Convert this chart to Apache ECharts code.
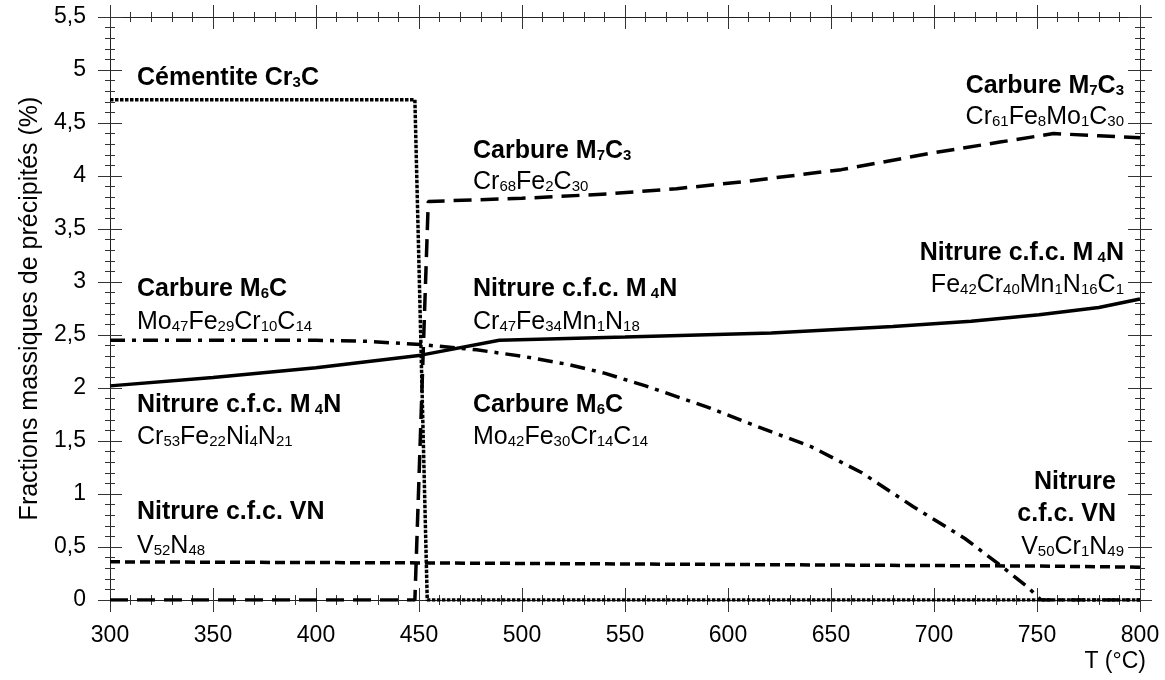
<!DOCTYPE html>
<html><head><meta charset="utf-8">
<script src="https://cdn.jsdelivr.net/npm/echarts@6/dist/echarts.min.js"></script>
<style>html,body{margin:0;padding:0;background:#fff}#c{width:1165px;height:680px}</style>
</head><body><div id="c"></div>
<script>
// ---- data ----
const cementiteT = [300, 448, 454, 800];
const cementiteV = [4.72, 4.72, 0, 0];
const m7c3T = [300, 448, 454.5, 500, 541, 575, 609, 655, 700, 732, 758, 780, 800];
const m7c3V = [0, 0, 3.76, 3.79, 3.83, 3.88, 3.95, 4.06, 4.22, 4.32, 4.40, 4.38, 4.36];
const m4nT = [300, 350, 400, 451, 489, 550, 621, 680, 718, 751, 780, 800];
const m4nV = [2.02, 2.10, 2.19, 2.31, 2.45, 2.48, 2.52, 2.58, 2.63, 2.69, 2.76, 2.84];
const m6cT = [300, 400, 425, 451, 478, 500, 523, 540, 560, 590, 615, 640, 665, 690, 715, 730, 745, 752, 800];
const m6cV = [2.45, 2.45, 2.44, 2.41, 2.36, 2.30, 2.22, 2.14, 2.02, 1.82, 1.63, 1.45, 1.20, 0.88, 0.58, 0.36, 0.13, 0, 0];
const vnT = [300, 450, 550, 650, 750, 800];
const vnV = [0.36, 0.35, 0.34, 0.33, 0.32, 0.31];

const xRange = [300, 800], xStep = 50;
const yRange = [0, 5.5], yStep = 0.5;
const yTitle = 'Fractions massiques de précipités (%)';
const xTitle = 'T (°C)';

// annotation texts
const titles = ['Cémentite Cr{b|3}C', 'Carbure M{b|7}C{b|3}', 'Carbure M{b|7}C{b|3}', 'Carbure M{b|6}C',
  'Nitrure c.f.c. M{b| 4}N', 'Nitrure c.f.c. M{b| 4}N', 'Nitrure c.f.c. M{b| 4}N', 'Carbure M{b|6}C',
  'Nitrure c.f.c. VN', 'Nitrure', 'c.f.c. VN'];
const formulas = ['Cr{s|68}Fe{s|2}C{s|30}', 'Cr{s|61}Fe{s|8}Mo{s|1}C{s|30}', 'Mo{s|47}Fe{s|29}Cr{s|10}C{s|14}',
  'Cr{s|47}Fe{s|34}Mn{s|1}N{s|18}', 'Fe{s|42}Cr{s|40}Mn{s|1}N{s|16}C{s|1}', 'Cr{s|53}Fe{s|22}Ni{s|4}N{s|21}',
  'Mo{s|42}Fe{s|30}Cr{s|14}C{s|14}', 'V{s|52}N{s|48}', 'V{s|50}Cr{s|1}N{s|49}'];

const FONT = '"Liberation Sans", Arial, Helvetica, sans-serif';
const zip = (a, b) => a.map((v, i) => [v, b[i]]);

function xAx(pos, inside, labels) {
  return {
    type: 'value', position: pos, min: xRange[0], max: xRange[1], interval: xStep,
    splitLine: { show: false },
    axisLine: { show: true, onZero: false, lineStyle: { color: '#222', width: 1 } },
    axisTick: { show: true, inside: inside, length: 12, lineStyle: { color: '#333' } },
    minorTick: { show: true, splitNumber: 5, length: 5, lineStyle: { color: '#333' } },
    axisLabel: { show: labels, margin: 24, color: '#000', fontSize: 23, fontFamily: FONT }
  };
}
function yAx(pos, inside, labels) {
  const a = {
    type: 'value', position: pos, min: yRange[0], max: yRange[1], interval: yStep,
    splitLine: { show: false },
    axisLine: { show: true, onZero: false, lineStyle: { color: '#222', width: 1 } },
    axisTick: { show: true, inside: inside, length: 12, lineStyle: { color: '#333' } },
    minorTick: { show: true, splitNumber: 5, length: 5, lineStyle: { color: '#333' } },
    axisLabel: { show: labels, margin: 24, color: '#000', fontSize: 23, fontFamily: FONT,
      formatter: v => String(v).replace('.', ',') }
  };
  if (labels) {
    a.name = yTitle; a.nameLocation = 'middle'; a.nameGap = 67; a.nameRotate = 90;
    a.nameTextStyle = { fontSize: 25, color: '#000', fontFamily: FONT };
  }
  return a;
}

function txt(x, y, text, bold, align) {
  return {
    type: 'text', x: x, y: y, z: 100,
    style: {
      text: text, fill: '#000',
      font: (bold ? 'bold ' : '') + '25px ' + FONT,
      align: align, verticalAlign: 'middle', textAlign: align, textVerticalAlign: 'middle',
      rich: {
        b: { fontSize: 15, fontWeight: 'bold', fontFamily: FONT, verticalAlign: 'bottom', lineHeight: 15 },
        s: { fontSize: 15, fontFamily: FONT, verticalAlign: 'bottom', lineHeight: 15 }
      }
    }
  };
}

const L = 137, M = 473, R = 1124;
const graphics = [
  txt(L, 78, titles[0], true, 'left'),
  txt(M, 151, titles[1], true, 'left'),
  txt(M, 182, formulas[0], false, 'left'),
  txt(R, 86, titles[2], true, 'right'),
  txt(R, 117, formulas[1], false, 'right'),
  txt(L, 289, titles[3], true, 'left'),
  txt(L, 322, formulas[2], false, 'left'),
  txt(M, 289, titles[4], true, 'left'),
  txt(M, 322, formulas[3], false, 'left'),
  txt(R, 253, titles[5], true, 'right'),
  txt(R, 285, formulas[4], false, 'right'),
  txt(L, 405, titles[6], true, 'left'),
  txt(L, 437, formulas[5], false, 'left'),
  txt(M, 405, titles[7], true, 'left'),
  txt(M, 437, formulas[6], false, 'left'),
  txt(L, 512, titles[8], true, 'left'),
  txt(L, 546, formulas[7], false, 'left'),
  txt(1116, 482, titles[9], true, 'right'),
  txt(1116, 514, titles[10], true, 'right'),
  txt(R, 547, formulas[8], false, 'right'),
  { type: 'text', x: 1146, y: 662, z: 100, style: { text: xTitle, fill: '#000', font: '23px ' + FONT,
    align: 'right', verticalAlign: 'middle', textAlign: 'right', textVerticalAlign: 'middle' } }
];

function ser(name, t, v, width, dash) {
  return {
    name: name, type: 'line', xAxisIndex: 0, yAxisIndex: 0, data: zip(t, v),
    symbol: 'none', showSymbol: false, animation: false, z: 3,
    lineStyle: { color: '#000', width: width, type: dash }
  };
}

const chart = echarts.init(document.getElementById('c'), null, { renderer: 'canvas' });
chart.setOption({
  backgroundColor: '#fff',
  animation: false,
  grid: { left: 110, right: 25, top: 17, bottom: 80 },
  xAxis: [xAx('bottom', false, true), xAx('bottom', true, false), xAx('top', false, false), xAx('top', true, false)],
  yAxis: [yAx('left', false, true), yAx('left', true, false), yAx('right', false, false), yAx('right', true, false)],
  series: [
    ser('VN', vnT, vnV, 3.5, [10, 5]),
    ser('M6C', m6cT, m6cV, 3.5, [15, 7, 4, 7]),
    ser('M7C3', m7c3T, m7c3V, 3.5, [18, 9]),
    ser('Cr3C', cementiteT, cementiteV, 3.5, [3.5, 1.5]),
    ser('M4N', m4nT, m4nV, 3.5, 'solid')
  ],
  graphic: graphics
});
</script>
</body></html>
